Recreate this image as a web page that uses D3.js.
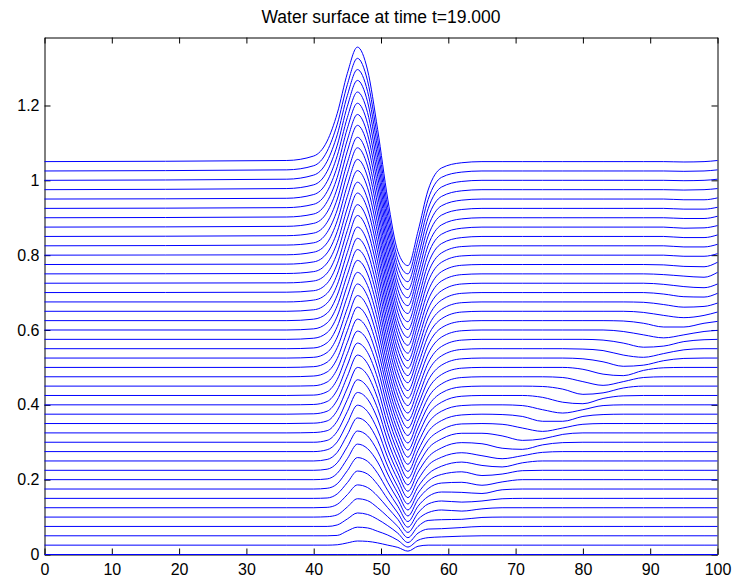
<!DOCTYPE html>
<html>
<head>
<meta charset="utf-8">
<script src="https://cdn.jsdelivr.net/npm/d3@7"></script>
<style>
  body { margin: 0; background: #fff; }
  text { font-family: "Liberation Sans", Arial, Helvetica, sans-serif; }
</style>
</head>
<body>
<div id="chart"></div>
<script>
var title = "Water surface at time t=19.000";
var xTicks = [0, 10, 20, 30, 40, 50, 60, 70, 80, 90, 100];
var yTicks = [0, 0.2, 0.4, 0.6, 0.8, 1, 1.2];

// baseline of each snapshot (bottom to top)
var offsets = [0, 0.025, 0.05, 0.075, 0.1, 0.125, 0.15, 0.175, 0.2, 0.225, 0.25,
  0.275, 0.3, 0.325, 0.35, 0.375, 0.4, 0.425, 0.45, 0.475, 0.5, 0.525, 0.55,
  0.575, 0.6, 0.625, 0.65, 0.675, 0.7, 0.725, 0.75, 0.775, 0.8, 0.825, 0.85,
  0.875, 0.9, 0.925, 0.95, 0.975, 1, 1.025, 1.05];

var xGrid = [0, 36, 40, 42, 43.5, 45, 46.5, 48, 49.5, 51, 52.5, 54, 55.5, 57, 59,
  62, 65, 68, 71, 74, 77, 80, 83, 86, 89, 92, 95, 98, 100];

// surface elevation above each baseline, in thousandths
var eta = [
  [0,0,0,0,0,0,0,0,0,0,0,0,0,0,0,0,0,0,0,0,0,0,0,0,0,0,0,0,0],
  [0,0,0,0,1,6,11,10,6,0,-6,-16,-3,0,0,0,0,0,0,0,0,0,0,0,0,0,0,0,0],
  [0,0,0,0,1,13,23,21,12,2,-12,-30,-12,-5,-3,-1,0,0,0,0,0,0,0,0,0,0,0,0,0],
  [0,0,0,0,4,20,36,32,19,2,-18,-43,-18,-7,-6,-3,0,0,0,0,0,0,0,0,0,0,0,0,0],
  [0,0,0,1,6,27,49,44,25,1,-25,-55,-25,-9,-7,-6,-1,0,0,0,0,0,0,0,0,0,0,0,0],
  [0,0,0,1,9,35,61,54,31,0,-31,-66,-31,-13,-6,-9,-3,0,0,0,0,0,0,0,0,0,0,0,0],
  [0,0,0,1,12,42,73,65,37,-2,-39,-77,-39,-15,-7,-10,-7,-1,0,0,0,0,0,0,0,0,0,0,0],
  [0,0,0,2,14,49,84,74,42,-4,-46,-87,-46,-20,-8,-9,-12,-2,0,0,0,0,0,0,0,0,0,0,0],
  [0,0,0,2,17,56,95,83,47,-7,-53,-97,-53,-24,-9,-7,-15,-6,0,0,0,0,0,0,0,0,0,0,0],
  [0,0,0,3,20,63,105,92,51,-10,-61,-106,-61,-29,-11,-4,-14,-10,-1,0,0,0,0,0,0,0,0,0,0],
  [0,0,0,4,23,70,115,100,55,-14,-69,-115,-69,-35,-14,-3,-12,-16,-5,0,0,0,0,0,0,0,0,0,0],
  [0,0,0,5,26,76,124,107,58,-16,-75,-123,-75,-37,-15,-3,-11,-19,-11,-2,0,0,0,0,0,0,0,0,0],
  [0,0,0,5,29,82,133,115,62,-19,-82,-131,-80,-40,-15,-1,-4,-16,-19,-7,-1,0,0,0,0,0,0,0,0],
  [0,0,1,6,32,89,142,122,65,-21,-89,-139,-86,-42,-16,-1,-1,-8,-20,-16,-4,0,0,0,0,0,0,0,0],
  [0,0,1,7,35,95,150,129,67,-24,-95,-146,-91,-45,-17,-1,0,-2,-12,-21,-12,-2,0,0,0,0,0,0,0],
  [0,0,1,8,38,101,158,135,69,-27,-101,-153,-97,-47,-17,-2,0,-1,-6,-19,-19,-6,-1,0,0,0,0,0,0],
  [0,0,1,9,40,106,165,140,71,-29,-107,-159,-102,-49,-17,-2,0,0,-2,-13,-22,-13,-2,0,0,0,0,0,0],
  [0,0,1,10,43,112,172,146,73,-32,-113,-165,-107,-51,-18,-2,0,0,0,-5,-18,-22,-8,-1,0,0,0,0,0],
  [0,0,1,11,46,117,179,151,74,-35,-120,-171,-112,-54,-18,-2,0,0,0,-1,-8,-22,-18,-5,0,0,0,0,0],
  [0,0,2,13,49,123,186,156,75,-38,-126,-177,-117,-56,-19,-2,0,0,0,0,-2,-13,-23,-13,-2,0,0,0,0],
  [0,0,2,14,53,128,192,161,76,-42,-132,-182,-121,-58,-19,-2,0,0,0,0,0,-5,-18,-22,-8,-1,0,0,0],
  [0,0,2,15,56,133,198,165,77,-45,-138,-187,-126,-60,-19,-2,0,0,0,0,0,-2,-10,-22,-19,-7,-1,0,0],
  [0,0,2,16,59,139,204,169,78,-48,-144,-192,-131,-61,-19,-2,0,0,0,0,0,-1,-5,-17,-23,-13,-3,0,0],
  [0,0,3,18,62,144,211,175,79,-50,-149,-197,-134,-63,-19,-2,0,0,0,0,0,0,-2,-10,-21,-18,-6,-1,0],
  [0,0,3,19,65,148,215,178,80,-53,-154,-202,-137,-64,-19,-2,0,0,0,0,0,0,0,-4,-13,-21,-13,-4,-1],
  [0,0,4,20,68,152,220,182,80,-55,-158,-207,-140,-65,-19,-2,0,0,0,0,0,0,0,-1,-7,-17,-17,-7,-2],
  [0,0,4,22,71,157,225,185,81,-57,-163,-212,-143,-66,-20,-2,0,0,0,0,0,0,0,0,-3,-11,-17,-11,-2],
  [0,0,5,23,74,162,231,190,82,-60,-168,-216,-146,-67,-20,-2,0,0,0,0,0,0,0,0,-1,-7,-14,-12,-3],
  [0,1,5,25,77,166,235,193,82,-62,-173,-222,-150,-68,-20,-2,0,0,0,0,0,0,0,0,0,-4,-11,-12,-2],
  [0,1,6,27,81,172,241,198,83,-65,-178,-227,-153,-69,-20,-2,0,0,0,0,0,0,0,0,0,-3,-9,-12,-2],
  [0,1,6,29,84,176,245,200,83,-68,-183,-232,-156,-70,-19,-2,0,0,0,0,0,0,0,0,0,-2,-6,-9,4],
  [0,1,7,31,88,182,251,205,84,-70,-188,-237,-159,-71,-19,-2,0,0,0,0,0,0,0,0,0,-1,-5,-6,6],
  [0,1,8,33,92,187,256,209,84,-73,-194,-241,-162,-71,-19,-2,0,0,0,0,0,0,0,0,0,0,-3,-3,4],
  [0,2,8,36,96,193,262,213,85,-76,-199,-245,-165,-72,-19,-2,0,0,0,0,0,0,0,0,0,0,-3,-3,4],
  [0,2,9,38,100,197,265,215,85,-79,-203,-249,-168,-73,-19,-3,0,0,0,0,0,0,0,0,0,0,-3,-3,4],
  [0,2,10,40,104,203,272,220,86,-81,-208,-253,-170,-73,-19,-3,0,0,0,0,0,0,0,0,0,0,-3,-2,4],
  [0,2,10,43,108,208,276,223,86,-84,-212,-256,-172,-74,-19,-3,0,0,0,0,0,0,0,0,0,0,-2,-2,4],
  [0,2,11,45,112,214,281,227,86,-86,-217,-260,-175,-74,-18,-3,0,0,0,0,0,0,0,0,0,0,-2,-2,3],
  [0,2,12,47,116,218,286,231,86,-89,-222,-264,-177,-75,-18,-3,0,0,0,0,0,0,0,0,0,0,-2,-2,3],
  [0,3,13,49,119,223,292,235,86,-92,-226,-267,-180,-75,-18,-3,0,0,0,0,0,0,0,0,0,0,-1,0,3],
  [0,3,14,51,122,227,296,238,86,-95,-231,-271,-182,-76,-18,-3,0,0,0,0,0,0,0,0,0,0,-1,0,3],
  [0,3,14,53,125,231,301,241,86,-98,-236,-275,-184,-76,-17,-3,0,0,0,0,0,0,0,0,0,0,-1,0,3],
  [0,3,15,55,129,236,306,245,86,-100,-240,-278,-186,-76,-17,-3,0,0,0,0,0,0,0,0,0,0,-1,0,3]
];

var width = 735, height = 581;
var lineColor = "#0000ff",
    axisColor = "#000",
    tickFont = 16,
    titleFont = 17.5;

var x = d3.scaleLinear().domain([0, 100]).range([44.5, 717.5]);
var y = d3.scaleLinear().domain([0, 1.3817]).range([554.5, 37.5]);

var svg = d3.select("#chart").append("svg")
    .attr("width", width)
    .attr("height", height);

svg.append("rect")
    .attr("width", width)
    .attr("height", height)
    .attr("fill", "#fff");

// axes first, the data is drawn over them (as matlab does)
var axesG = svg.append("g").attr("id", "axes");

axesG.append("g")
    .attr("transform", "translate(0," + y(0) + ")")
    .call(d3.axisBottom(x).tickValues(xTicks).tickSizeInner(-6).tickSizeOuter(0).tickPadding(9)
        .tickFormat(d3.format("d")));

axesG.append("g")
    .attr("transform", "translate(0," + y.range()[1] + ")")
    .call(d3.axisTop(x).tickValues(xTicks).tickSizeInner(-6).tickSizeOuter(0).tickFormat(""));

axesG.append("g")
    .attr("transform", "translate(" + x(0) + ",0)")
    .call(d3.axisLeft(y).tickValues(yTicks).tickSizeInner(-6).tickSizeOuter(0).tickPadding(5)
        .tickFormat(function(d) { return d3.format("~g")(d); }));

axesG.append("g")
    .attr("transform", "translate(" + x(100) + ",0)")
    .call(d3.axisRight(y).tickValues(yTicks).tickSizeInner(-6).tickSizeOuter(0).tickFormat(""));

axesG.selectAll("path.domain").attr("stroke", axisColor).attr("stroke-width", 1);
axesG.selectAll(".tick line").attr("stroke", axisColor).attr("stroke-width", 1);
axesG.selectAll(".tick text")
    .attr("fill", "#000")
    .style("font-size", tickFont + "px")
    .style("font-family", "'Liberation Sans', Arial, sans-serif");

// one line per snapshot
var line = d3.line()
    .x(function(d) { return x(d.x); })
    .y(function(d) { return y(d.y); })
    .curve(d3.curveMonotoneX);

var series = offsets.map(function(base, i) {
    return xGrid.map(function(xv, j) {
        return { x: xv, y: base + eta[i][j] / 1000 };
    });
});

svg.append("g").attr("id", "surfaces")
    .selectAll("path")
    .data(series)
    .enter().append("path")
    .attr("d", line)
    .attr("fill", "none")
    .attr("stroke", lineColor)
    .attr("stroke-width", 1);

svg.append("text")
    .attr("x", (x(0) + x(100)) / 2)
    .attr("y", 23)
    .attr("text-anchor", "middle")
    .attr("fill", "#000")
    .style("font-size", titleFont + "px")
    .text(title);
</script>
</body>
</html>
